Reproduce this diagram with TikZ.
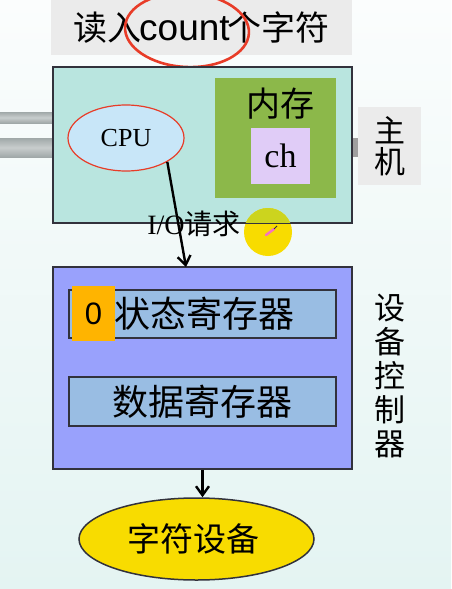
\documentclass[tikz,border=0pt]{standalone}
\usepackage{fontspec}
\setmainfont{Liberation Serif}
\newfontfamily\cjk{Noto Sans CJK SC}
\newfontfamily\lsans{Liberation Sans}
\usetikzlibrary{shapes.geometric,arrows.meta}
\definecolor{bgtop}{RGB}{251,253,253}
\definecolor{bgbot}{RGB}{228,244,242}
\definecolor{lblgray}{RGB}{235,235,235}
\definecolor{hostteal}{RGB}{185,229,223}
\definecolor{memgreen}{RGB}{140,184,74}
\definecolor{lavender}{RGB}{224,204,247}
\definecolor{cpublue}{RGB}{200,230,248}
\definecolor{ctrlblue}{RGB}{153,161,252}
\definecolor{regblue}{RGB}{153,189,227}
\definecolor{regorange}{RGB}{255,180,0}
\definecolor{devyellow}{RGB}{248,220,0}
\definecolor{spotgreen}{RGB}{204,212,30}
\definecolor{markred}{RGB}{232,60,40}
\definecolor{edge}{RGB}{50,50,60}
\definecolor{barmid}{RGB}{200,205,205}
\definecolor{baredge}{RGB}{160,168,168}
\tikzset{
  box/.style={draw=edge, line width=1.5pt, inner sep=0pt},
  lbl/.style={fill=lblgray, inner sep=0pt, align=center},
  arr/.style={line width=2.4pt, -{Straight Barb[length=9pt,width=13pt]}},
  reg/.style={box, fill=regblue, minimum width=267pt, font=\cjk\fontsize{36}{38}\selectfont}
}
\begin{document}
\begin{tikzpicture}[x=1pt,y=-1pt]
\useasboundingbox (0,0) rectangle (451,589);
\clip (0,0) rectangle (451,589);
\shade[top color=bgtop,bottom color=bgbot] (0,0) rectangle (451,589);
% gray bars
\shade[top color=baredge,bottom color=baredge,middle color=barmid] (0,112) rectangle (53,123);
\shade[top color=baredge,bottom color=baredge,middle color=barmid] (0,138) rectangle (53,157);
\fill[gray!75] (352,138) rectangle (358,157);
% title
\node[lbl, minimum width=301pt, minimum height=55pt] (title) at (201.5,27.5) {{\cjk\fontsize{34}{36}\selectfont 读入}\hspace*{-2pt}{\lsans\fontsize{37}{39}\selectfont count}\hspace*{-2pt}{\cjk\fontsize{34}{36}\selectfont 个字符}};
\draw[markred, line width=2.6pt, rotate around={-3:(187,30)}] (187,30) ellipse [x radius=62, y radius=37];
% host
\node[box, fill=hostteal, minimum width=299pt, minimum height=156pt] (host) at (202.5,145) {};
\node[fill=memgreen, inner sep=0pt, minimum width=121pt, minimum height=120pt] (mem) at (275.5,138) {};
\node[font=\cjk\fontsize{34}{36}\selectfont, inner sep=0pt] (memlbl) at (280,104) {内存};
\node[fill=lavender, inner sep=0pt, minimum width=59pt, minimum height=56pt, font=\fontsize{34}{36}\selectfont] (ch) at (280.5,156) {ch};
\node[ellipse, draw=markred, line width=1.2pt, fill=cpublue, inner sep=0pt, minimum width=116pt, minimum height=66pt, font=\fontsize{26}{28}\selectfont] (cpu) at (126,138) {CPU};
\node[lbl, minimum width=63pt, minimum height=78pt, font=\cjk\fontsize{31}{31}\selectfont] (hostlbl) at (389.5,146) {主\\机};
% controller
\node[box, fill=ctrlblue, minimum width=299pt, minimum height=202pt] (ctrl) at (202.5,368) {};
\node[reg, minimum height=48pt] (status) at (202.5,314) {\hspace*{3pt}状态寄存器};
\node[fill=regorange, inner sep=0pt, minimum width=43pt, minimum height=55pt, font=\lsans\fontsize{31}{33}\selectfont] (flag) at (93.5,313.5) {0};
\node[reg, minimum height=49pt] (data) at (202.5,401.5) {数据寄存器};
\node[font=\cjk\fontsize{31}{34}\selectfont, align=center, inner sep=0pt] (ctrllbl) at (390,376) {设\\备\\控\\制\\器};
% device
\node[ellipse, draw=edge, line width=1.5pt, fill=devyellow, inner sep=0pt, minimum width=235pt, minimum height=82pt, font=\cjk\fontsize{33}{35}\selectfont] (dev) at (196.5,539) {\hspace*{-6pt}字符设备};
% I/O request
\node[font=\fontsize{28}{30}\selectfont, inner sep=0pt] (iolbl) at (194,224) {I/O{\cjk 请求}};
\coordinate (ioend) at (186,267);
\draw[arr] (cpu.-30) -- (ioend);
\draw[arr] (ctrl.south) -- (ctrl.south |- dev.north);
% cursor marker
\fill[devyellow] (268,232) circle [radius=24];
\begin{scope}
\clip (230,200) rectangle (310,223);
\fill[spotgreen] (268,232) circle [radius=24];
\end{scope}
\draw[edge, line width=1pt] (245,223) -- (291,223);
\draw[magenta!55, line width=2.5pt, line cap=round] (266,235) -- (274,229);
\draw[edge, line width=0.8pt] (274,229) -- (277,226);
\end{tikzpicture}
\end{document}
